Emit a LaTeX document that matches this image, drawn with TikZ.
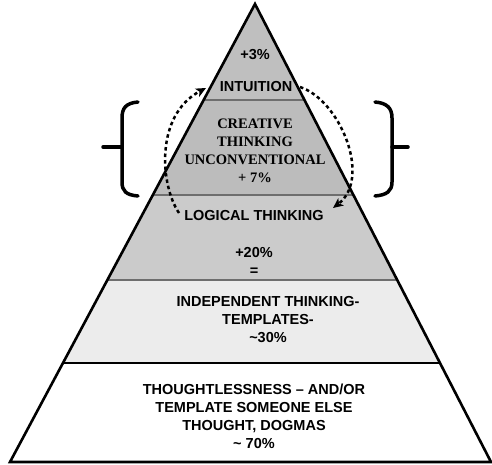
\documentclass[tikz,border=0pt]{standalone}
\usepackage{fontspec}
\setmainfont{Liberation Sans}
\newfontfamily\serifbold{Liberation Serif}
\usetikzlibrary{arrows.meta}
\definecolor{bandtop}{HTML}{BFBFBF}
\definecolor{bandcre}{HTML}{BCBCBC}
\definecolor{bandlog}{HTML}{CBCBCB}
\definecolor{bandind}{HTML}{ECECEC}
\definecolor{sepgray}{HTML}{6E6E6E}
\tikzset{
  lbl/.style={font=\fontsize{14.5}{18}\selectfont\bfseries, align=center, inner sep=0pt, text=black},
  serlbl/.style={font=\serifbold\fontsize{14.5}{18}\selectfont\bfseries, align=center, inner sep=0pt, text=black},
  sepline/.style={line width=1.6pt, draw=sepgray},
  cycarrow/.style={line width=2.5pt, dash pattern=on 3.5pt off 3pt, -{Stealth[length=10pt,width=9pt,inset=2.5pt]}},
  bracestyle/.style={line width=3.5pt, line cap=round}
}
\begin{document}
\begin{tikzpicture}[x=1pt,y=-1pt]
\useasboundingbox (0,0) rectangle (492,464);
% triangle corners
\coordinate (apex) at (255,4);
\coordinate (bl) at (10,462);
\coordinate (br) at (491,462);
% bands
\begin{scope}
  \clip (apex) -- (bl) -- (br) -- cycle;
  \fill[bandtop] (0,0) rectangle (492,100);
  \fill[bandcre] (0,100) rectangle (492,195);
  \fill[bandlog] (0,195) rectangle (492,280);
  \fill[bandind] (0,280) rectangle (492,363);
  \fill[white] (0,363) rectangle (492,464);
  \draw[sepline] (0,100) -- (492,100);
  \draw[sepline] (0,195) -- (492,195);
  \draw[sepline] (0,280) -- (492,280);
  \draw[line width=2.4pt, black] (0,363) -- (492,363);
\end{scope}
\draw[line width=2.6pt, line join=miter] (apex) -- (bl) -- (br) -- cycle;

% texts
\node[lbl] (p3) at (255,55) {+3\%};
\node[lbl] (intu) at (256,87) {INTUITION};
\node[serlbl] (crea) at (255,151) {CREATIVE\\THINKING\\UNCONVENTIONAL\\+ 7\%};
\node[lbl] (logi) at (254,216) {LOGICAL THINKING};
\node[lbl] (p20) at (254,261) {+20\%\\=};
\node[lbl] (inde) at (268,320) {INDEPENDENT THINKING-\\TEMPLATES-\\\textasciitilde30\%};
\node[lbl] (thou) at (254,416) {THOUGHTLESSNESS -- AND/OR\\TEMPLATE SOMEONE ELSE\\THOUGHT, DOGMAS\\\textasciitilde\ 70\%};

% cycle arrows
\coordinate (la) at (179,213);
\coordinate (lb) at (206,88);
\coordinate (ra) at (300,87);
\coordinate (rb) at (333,208);
\draw[cycarrow] (la) .. controls (160,185) and (155,115) .. (lb);
\draw[cycarrow] (ra) .. controls (340,100) and (372,178) .. (rb);

% braces
\draw[bracestyle] (138,102) .. controls (126,103) and (122,108) .. (122,118) -- (122,182) .. controls (122,191) and (126,195) .. (138,196);
\draw[bracestyle] (103,147) -- (122,147);
\draw[bracestyle] (375,102) .. controls (387,103) and (392,108) .. (392,118) -- (392,182) .. controls (392,191) and (387,195) .. (375,196);
\draw[bracestyle] (392,147) -- (408,147);
\end{tikzpicture}
\end{document}
